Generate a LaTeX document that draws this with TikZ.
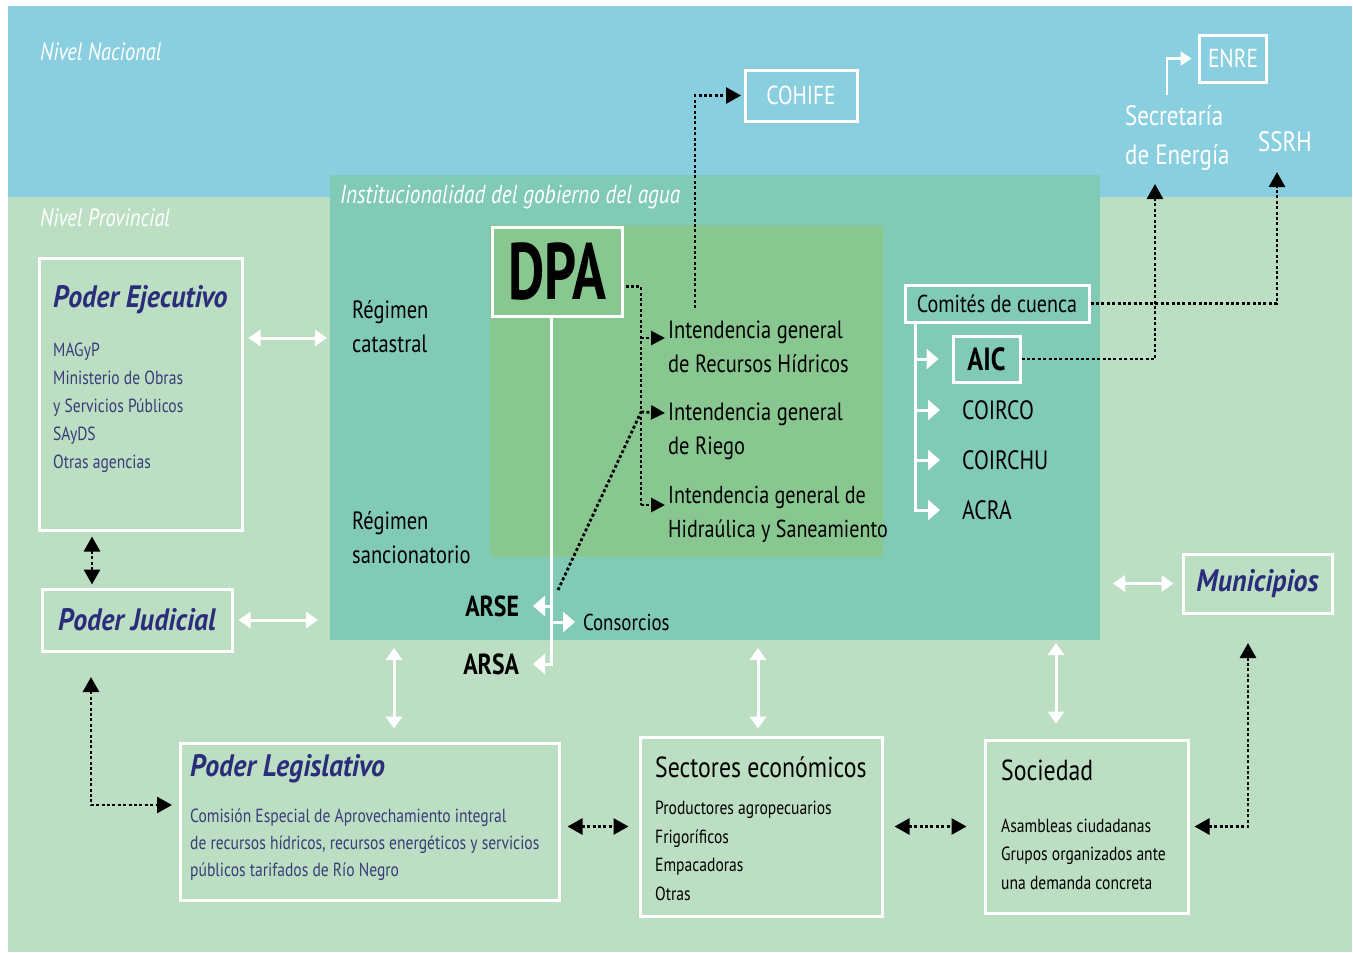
\documentclass[tikz,border=0pt]{standalone}
\usepackage{fontspec}
\setmainfont{PT Sans}[FakeStretch=0.82]
\newfontfamily\dpafont{PT Sans}[FakeStretch=0.7]
\newfontfamily\poderfont{PT Sans}[FakeStretch=0.9]
\usetikzlibrary{arrows.meta, calc, positioning}

\definecolor{nacional}{RGB}{138,207,223}
\definecolor{provincial}{RGB}{188,223,196}
\definecolor{instit}{RGB}{129,202,181}
\definecolor{dpaverde}{RGB}{136,199,144}
\definecolor{poder}{RGB}{44,45,122}
\definecolor{poderitem}{RGB}{58,60,120}

\begin{document}
\begin{tikzpicture}[x=1pt, y=-1pt,
  caja/.style={draw=white, line width=3pt, inner sep=0pt},
  texto/.style={anchor=west, inner sep=0pt, align=left},
  titulo/.style={texto, text=poder, font=\poderfont\bfseries\itshape\fontsize{31}{36}\selectfont},
  lista/.style={texto, text=poderitem, font=\fontsize{19}{28}\selectfont},
  medio/.style={texto, font=\fontsize{25}{34}\selectfont},
  nivel/.style={texto, text=white, font=\itshape\fontsize{25}{28}\selectfont},
  blanca/.style={white, line width=3pt},
  flechab/.style={blanca, -{Triangle[width=20pt,length=12pt]}},
  flechae/.style={white, line width=2.5pt, -{Triangle[width=14pt,length=11pt]}},
  dobleb/.style={blanca, {Triangle[width=16pt,length=12pt]}-{Triangle[width=16pt,length=12pt]}},
  punteada/.style={black, line width=2.8pt, dash pattern=on 3pt off 2.4pt},
  flechan/.style={punteada, -{Triangle[width=16pt,length=15pt]}},
  flechai/.style={punteada, -{Triangle[width=14pt,length=14pt]}},
  doblen/.style={punteada, {Triangle[width=16pt,length=15pt]}-{Triangle[width=16pt,length=15pt]}}]

  \useasboundingbox (0,0) rectangle (1353,953);
  \fill[white] (0,0) rectangle (1353,953);
  \fill[nacional] (8,6) rectangle (1352,197);
  \fill[provincial] (8,197) rectangle (1352,952);

  \node[fill=instit, minimum width=770pt, minimum height=465pt, inner sep=0pt, outer sep=0pt] (instit) at (715,407.5) {};
  \fill[dpaverde] (490,225) rectangle (883,557);

  \node[nivel] (nacionallbl) at (40,52) {Nivel Nacional};
  \node[nivel] (provinciallbl) at (40,218) {Nivel Provincial};
  \node[nivel, font=\itshape\fontsize{26}{28}\selectfont] (institlbl) at (340,197) {Institucionalidad del gobierno del agua};

  % DPA y sus intendencias
  \node[caja, minimum width=130pt, minimum height=89pt, font=\dpafont\bfseries\fontsize{80}{80}\selectfont] (dpa) at (557,271.5) {DPA};

  \node[medio] (catastral) at (352,327) {Régimen\\catastral};
  \node[medio] (sancion) at (352,538) {Régimen\\sancionatorio};

  \node[medio] (irh) at (668,347) {Intendencia general\\de Recursos Hídricos};
  \node[medio] (iriego) at (668,431) {Intendencia general\\de Riego};
  \node[medio, font=\fontsize{24.5}{34}\selectfont] (ihs) at (668,514) {Intendencia general de\\Hidraúlica y Saneamiento};

  \coordinate (irhrama) at (641,338);
  \coordinate (riegorama) at (641,412);
  \coordinate (ihsrama) at (641,505);
  \draw[punteada] ($(dpa.east)+(2,15)$) -| (ihsrama);
  \draw[flechai] (irhrama) -- ($(irh.west)+(-3,-9)$);
  \draw[flechai] (riegorama) -- ($(iriego.west)+(-3,-18)$);
  \draw[flechai] (ihsrama) -- ($(ihs.west)+(-3,-9)$);

  \node[caja, minimum width=112pt, minimum height=51pt, text=white, font=\fontsize{26}{30}\selectfont, outer sep=4pt] (cohife) at (801,95.5) {COHIFE};
  \coordinate (cohifepie) at (695,308);
  \draw[flechan] (cohifepie) |- (cohife.west);

  \node[texto, anchor=east, outer sep=14pt, font=\bfseries\fontsize{29}{30}\selectfont] (arse) at (533,606) {ARSE};
  \node[texto, anchor=east, outer sep=14pt, font=\bfseries\fontsize{29}{30}\selectfont] (arsa) at (533,664) {ARSA};
  \node[texto, outer sep=8pt, font=\fontsize{23}{28}\selectfont] (consorcios) at (575,622) {Consorcios};

  \coordinate (tronco) at (551,316);
  \draw[flechab] (dpa.south -| tronco) |- (arsa.east);
  \draw[flechab] (tronco |- arse.east) -- (arse.east);
  \draw[flechab] (tronco |- consorcios.west) -- (consorcios.west);

  \coordinate (arsepunto) at (558,590);
  \draw[punteada] (arsepunto) -- (riegorama);

  % comites de cuenca
  \node[caja, minimum width=184pt, minimum height=37pt, font=\fontsize{24.5}{28}\selectfont] (comites) at (997,303.5) {Comités de cuenca};
  \node[caja, minimum width=67pt, minimum height=46pt, font=\bfseries\fontsize{32}{32}\selectfont] (aic) at (986.5,359) {AIC};
  \node[texto, font=\fontsize{26.5}{30}\selectfont] (coirco) at (962,410) {COIRCO};
  \node[texto, font=\fontsize{26.5}{30}\selectfont] (coirchu) at (962,460) {COIRCHU};
  \node[texto, font=\fontsize{26.5}{30}\selectfont] (acra) at (962,510) {ACRA};

  \coordinate (comtronco) at (915,322);
  \draw[flechab, shorten >=22pt] (comites.south -| comtronco) |- (acra.west);
  \draw[flechab, shorten >=13pt] (comtronco |- aic.west) -- (aic.west);
  \draw[flechab, shorten >=22pt] (comtronco |- coirco.west) -- (coirco.west);
  \draw[flechab, shorten >=22pt] (comtronco |- coirchu.west) -- (coirchu.west);

  % nivel nacional
  \node[texto, text=white, font=\fontsize{28}{39}\selectfont] (secretaria) at (1125,138) {Secretaría\\de Energía};
  \node[texto, text=white, font=\fontsize{28}{30}\selectfont] (ssrh) at (1258,142) {SSRH};
  \node[caja, minimum width=67pt, minimum height=47pt, text=white, font=\fontsize{26}{30}\selectfont, outer sep=8pt] (enre) at (1233,58.5) {ENRE};

  \coordinate (secpie) at (1155,184);
  \coordinate (ssrhpie) at (1277,172);
  \coordinate (enrepie) at (1167,95);
  \draw[flechan] (aic.east) -| (secpie);
  \draw[flechan] (comites.east) -| (ssrhpie);
  \draw[flechae] (enrepie) |- (enre.west);

  % poderes
  \node[caja, minimum width=203pt, minimum height=272pt] (ejecutivo) at (140.5,394) {};
  \node[titulo] (ejectit) at (53,300) {Poder Ejecutivo};
  \node[lista, below=28pt of ejectit.south west, anchor=north west] (ejeclista) {MAGyP\\Ministerio de Obras\\y Servicios Públicos\\SAyDS\\Otras agencias};

  \node[caja, minimum width=190pt, minimum height=62pt, text=poder, font=\poderfont\bfseries\itshape\fontsize{31}{36}\selectfont] (judicial) at (137,620) {Poder Judicial};

  \node[caja, minimum width=379pt, minimum height=157pt] (legislativo) at (369.5,821.5) {};
  \node[titulo] (legtit) at (190,769) {Poder Legislativo};
  \node[lista, font=\fontsize{19}{27}\selectfont] (leglista) at (190,845) {Comisión Especial de Aprovechamiento integral\\de recursos hídricos, recursos energéticos y servicios\\públicos tarifados de Río Negro};

  \node[caja, minimum width=242pt, minimum height=179pt] (sectores) at (761,826.5) {};
  \node[texto, font=\fontsize{29}{34}\selectfont] (sectit) at (655,767) {Sectores económicos};
  \node[texto, font=\fontsize{19}{28.7}\selectfont] (seclista) at (655,851) {Productores agropecuarios\\Frigoríficos\\Empacadoras\\Otras};

  \node[caja, minimum width=203pt, minimum height=173pt] (sociedad) at (1086.5,826.5) {};
  \node[texto, font=\fontsize{29}{34}\selectfont] (soctit) at (1001,770) {Sociedad};
  \node[texto, font=\fontsize{19}{28.5}\selectfont] (soclista) at (1001,854) {Asambleas ciudadanas\\Grupos organizados ante\\una demanda concreta};

  \node[caja, minimum width=149pt, minimum height=59pt, text=poder, font=\poderfont\bfseries\itshape\fontsize{31}{36}\selectfont] (municipios) at (1257.5,583.5) {Municipios};

  \coordinate (ejecflecha) at (0,338);
  \coordinate (ejejud) at (92,0);
  \coordinate (judpie) at (91,677);
  \coordinate (legentrada) at (172,805);
  \coordinate (legflecha) at (394,0);
  \coordinate (secflecha) at (758,0);
  \coordinate (socflecha) at (1056,0);
  \coordinate (munpie) at (1248,643);

  \draw[dobleb, shorten <=5pt, shorten >=3pt] (ejecutivo.east |- ejecflecha) -- (instit.west |- ejecflecha);
  \draw[dobleb, shorten <=5pt, shorten >=12pt] (judicial.east) -- (instit.west |- judicial.east);
  \draw[dobleb, shorten <=8pt, shorten >=13pt] (instit.south -| legflecha) -- (legislativo.north -| legflecha);
  \draw[dobleb, shorten <=8pt, shorten >=7pt] (instit.south -| secflecha) -- (sectores.north -| secflecha);
  \draw[dobleb, shorten <=3pt, shorten >=15pt] (instit.south -| socflecha) -- (sociedad.north -| socflecha);
  \draw[dobleb, shorten <=13pt, shorten >=8pt] (instit.east |- municipios.west) -- (municipios.west);

  \draw[doblen, shorten <=5pt, shorten >=3pt] (ejecutivo.south -| ejejud) -- (judicial.north -| ejejud);
  \draw[doblen] (judpie) |- (legentrada);
  \draw[doblen, shorten <=7pt, shorten >=10pt] (legislativo.east |- sectores.west) -- (sectores.west);
  \draw[doblen, shorten <=11pt, shorten >=17pt] (sectores.east) -- (sociedad.west);
  \draw[doblen, shorten <=5pt] (sociedad.east) -| (munpie);

\end{tikzpicture}
\end{document}
